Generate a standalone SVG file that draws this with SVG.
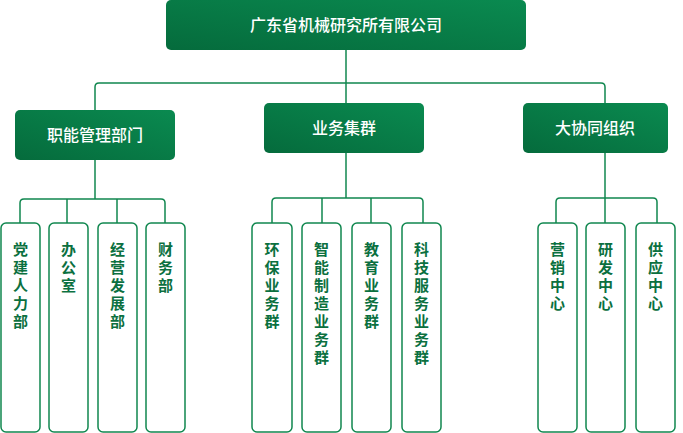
<svg xmlns="http://www.w3.org/2000/svg" width="683" height="433" viewBox="0 0 683 433">
<defs>
<linearGradient id="g" x1="0" y1="1" x2="1" y2="0"><stop offset="0" stop-color="#056b3c"/><stop offset="1" stop-color="#0a8a50"/></linearGradient>
<style>
.h{fill:url(#g)}
.ht{fill:#fff;font-family:"Noto Sans CJK SC",sans-serif;font-size:16px;font-weight:500;text-anchor:middle}
.c{fill:#fff;stroke:#10874f;stroke-width:1.5}
.ct{fill:#0b7040;font-family:"Noto Sans CJK SC",sans-serif;font-size:15px;font-weight:bold;writing-mode:vertical-rl;letter-spacing:3px}
.l{fill:none;stroke:#10874f;stroke-width:1.5}
</style>
</defs>
<g id="connectors" class="l">
<path d="M346 50V103"/>
<path d="M95 110V87Q95 83 99 83H601Q605 83 605 87V103"/>
<path d="M95 160V199"/>
<path d="M20 223V203Q20 199 24 199H161Q165 199 165 203V223M67 199V223M117 199V223"/>
<path d="M346 153V198"/>
<path d="M272 223V202Q272 198 276 198H419Q423 198 423 202V223M322 198V223M371 198V223"/>
<path d="M605 153V223"/>
<path d="M556 223V202Q556 198 560 198H653Q657 198 657 202V223"/>
</g>
<g id="root"><rect class="h" x="166" y="0" width="360" height="50" rx="5"/><text class="ht" x="346" y="31" font-size="17">广东省机械研究所有限公司</text></g>
<g id="n1"><rect class="h" x="15" y="110" width="160" height="50" rx="5"/><text class="ht" x="95" y="141">职能管理部门</text></g>
<g id="n2"><rect class="h" x="264" y="103" width="160" height="50" rx="5"/><text class="ht" x="344" y="134">业务集群</text></g>
<g id="n3"><rect class="h" x="523" y="103" width="145" height="50" rx="5"/><text class="ht" x="595" y="134">大协同组织</text></g>
<g id="c1"><rect class="c" x="1" y="223" width="39" height="209" rx="5"/><text class="ct" x="20.5" y="242">党建人力部</text></g>
<g id="c2"><rect class="c" x="49" y="223" width="39" height="209" rx="5"/><text class="ct" x="68.5" y="242">办公室</text></g>
<g id="c3"><rect class="c" x="98" y="223" width="39" height="209" rx="5"/><text class="ct" x="117.5" y="242">经营发展部</text></g>
<g id="c4"><rect class="c" x="146" y="223" width="39" height="209" rx="5"/><text class="ct" x="165.5" y="242">财务部</text></g>
<g id="c5"><rect class="c" x="252" y="223" width="40" height="209" rx="5"/><text class="ct" x="272" y="242">环保业务群</text></g>
<g id="c6"><rect class="c" x="302" y="223" width="39" height="209" rx="5"/><text class="ct" x="321.5" y="242">智能制造业务群</text></g>
<g id="c7"><rect class="c" x="352" y="223" width="39" height="209" rx="5"/><text class="ct" x="371.5" y="242">教育业务群</text></g>
<g id="c8"><rect class="c" x="402" y="223" width="39" height="209" rx="5"/><text class="ct" x="421.5" y="242">科技服务业务群</text></g>
<g id="c9"><rect class="c" x="538" y="223" width="39" height="209" rx="5"/><text class="ct" x="557.5" y="242">营销中心</text></g>
<g id="c10"><rect class="c" x="586" y="223" width="39" height="209" rx="5"/><text class="ct" x="605.5" y="242">研发中心</text></g>
<g id="c11"><rect class="c" x="636" y="223" width="39" height="209" rx="5"/><text class="ct" x="655.5" y="242">供应中心</text></g>
</svg>
